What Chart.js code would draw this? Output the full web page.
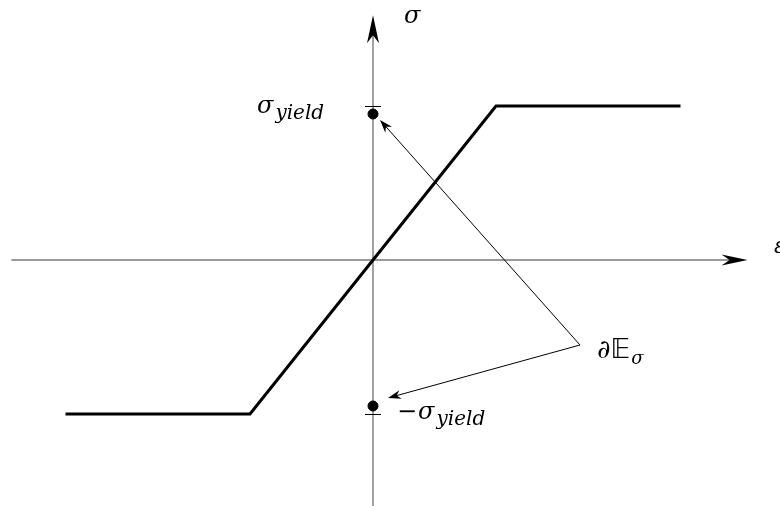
<!DOCTYPE html>
<html>
<head>
<meta charset="utf-8">
<script src="https://cdn.jsdelivr.net/npm/chart.js@4/dist/chart.umd.min.js"></script>
<style>
  html, body { margin: 0; padding: 0; background: #fff; }
  canvas { display: block; }
</style>
</head>
<body>
<canvas id="myChart" width="780" height="506"></canvas>
<script>
// elastic - perfectly plastic law, strain in units of yield strain
const strain = [-2.5, -1, 0, 1, 2.5];
const stress = [-1, -1, 0, 1, 1];

// points marking +/- sigma_yield on the stress axis
const yieldStrain = [0, 0];
const yieldStress = [0.948, -0.948];

// the subdifferential arrows: common tail and the two heads
const arrowTail = { x: 1.683, y: -0.552 };
const arrowHeads = [
  { x: 0.057, y: 0.909 },
  { x: 0.122, y: -0.896 },
];

const serif = '"DejaVu Serif", serif';

function arrowHead(c, x0, y0, x1, y1, len, half, inset) {
  const a = Math.atan2(y1 - y0, x1 - x0);
  const cos = Math.cos(a), sin = Math.sin(a);
  const p = (u, v) => [x1 - u * cos - v * sin, y1 - u * sin + v * cos];
  const l = p(len, half), r = p(len, -half), m = p(len - inset, 0);
  c.beginPath();
  c.moveTo(x1, y1);
  c.lineTo(l[0], l[1]);
  c.lineTo(m[0], m[1]);
  c.lineTo(r[0], r[1]);
  c.closePath();
  c.fill();
}

function text(c, str, x, y, size, italic, family) {
  c.font = (italic ? "italic " : "") + size + "px " + (family || serif);
  c.fillText(str, x, y);
  return c.measureText(str).width;
}

const diagram = {
  id: "diagram",
  beforeDatasetsDraw(chart) {
    const c = chart.ctx;
    const xs = chart.scales.x, ys = chart.scales.y;
    const x0 = xs.getPixelForValue(0), y0 = ys.getPixelForValue(0);
    c.save();
    // axes
    c.strokeStyle = "#7a7a7a";
    c.lineWidth = 1.4;
    c.beginPath();
    c.moveTo(xs.getPixelForValue(-2.94), y0);
    c.lineTo(xs.getPixelForValue(2.9), y0);
    c.moveTo(x0, ys.getPixelForValue(-1.6));
    c.lineTo(x0, ys.getPixelForValue(1.5));
    c.stroke();
    c.fillStyle = "#000";
    arrowHead(c, x0 - 10, y0, xs.getPixelForValue(3.045), y0, 26, 5.5, 8);
    arrowHead(c, x0, y0 + 10, x0, ys.getPixelForValue(1.59), 28, 6, 8);
    // yield ticks
    c.strokeStyle = "#000";
    c.lineWidth = 1;
    [1, -1].forEach(s => {
      const y = Math.round(ys.getPixelForValue(s)) + 0.5;
      c.beginPath();
      c.moveTo(xs.getPixelForValue(-0.065), y);
      c.lineTo(xs.getPixelForValue(0.065), y);
      c.stroke();
    });
    c.restore();
  },
  afterDatasetsDraw(chart) {
    const c = chart.ctx;
    const xs = chart.scales.x, ys = chart.scales.y;
    c.save();
    c.strokeStyle = "#000";
    c.fillStyle = "#000";
    c.lineWidth = 1;
    const tx = xs.getPixelForValue(arrowTail.x), ty = ys.getPixelForValue(arrowTail.y);
    arrowHeads.forEach(h => {
      const hx = xs.getPixelForValue(h.x), hy = ys.getPixelForValue(h.y);
      const a = Math.atan2(hy - ty, hx - tx);
      c.beginPath();
      c.moveTo(tx, ty);
      c.lineTo(hx - 8 * Math.cos(a), hy - 8 * Math.sin(a));
      c.stroke();
      arrowHead(c, tx, ty, hx, hy, 13, 4.5, 4);
    });

    // labels
    c.textBaseline = "alphabetic";
    let w = text(c, "σ", 257, 113, 24, true);
    text(c, "yield", 257 + w + 2, 119, 20, true);

    w = text(c, "−", 397, 419, 24, false);
    const w2 = text(c, "σ", 397 + w + 1, 419, 24, true);
    text(c, "yield", 397 + w + w2 + 3, 425, 20, true);

    w = text(c, "∂", 597, 358, 26, false);
    const we = text(c, "𝔼", 597 + w, 358, 27, false, '"DejaVu Sans", sans-serif');
    text(c, "σ", 597 + w + we + 1, 364, 18, true);

    text(c, "σ", 404, 23, 24, true);
    text(c, "ε", 774, 253, 22, true);
    c.restore();
  },
};

const ctx = document.getElementById("myChart").getContext("2d");

const data = {
  datasets: [
    {
      data: strain.map((e, i) => ({ x: e, y: stress[i] })),
      showLine: true,
      borderColor: "#000",
      borderWidth: 3,
      borderJoinStyle: "miter",
      pointRadius: 0,
      tension: 0,
    },
    {
      data: yieldStrain.map((e, i) => ({ x: e, y: yieldStress[i] })),
      showLine: false,
      pointRadius: 5,
      pointBackgroundColor: "#000",
      pointBorderColor: "#000",
    },
  ],
};

const config = {
  type: "scatter",
  data: data,
  options: {
    responsive: false,
    animation: false,
    layout: { padding: 0, autoPadding: false },
    plugins: {
      legend: { display: false },
      tooltip: { enabled: false },
    },
    scales: {
      x: { type: "linear", display: false, min: -373 / 123, max: 407 / 123 },
      y: { type: "linear", display: false, min: -246 / 154, max: 260 / 154 },
    },
  },
  plugins: [diagram],
};

const myChart = new Chart(ctx, config);
</script>
</body>
</html>
